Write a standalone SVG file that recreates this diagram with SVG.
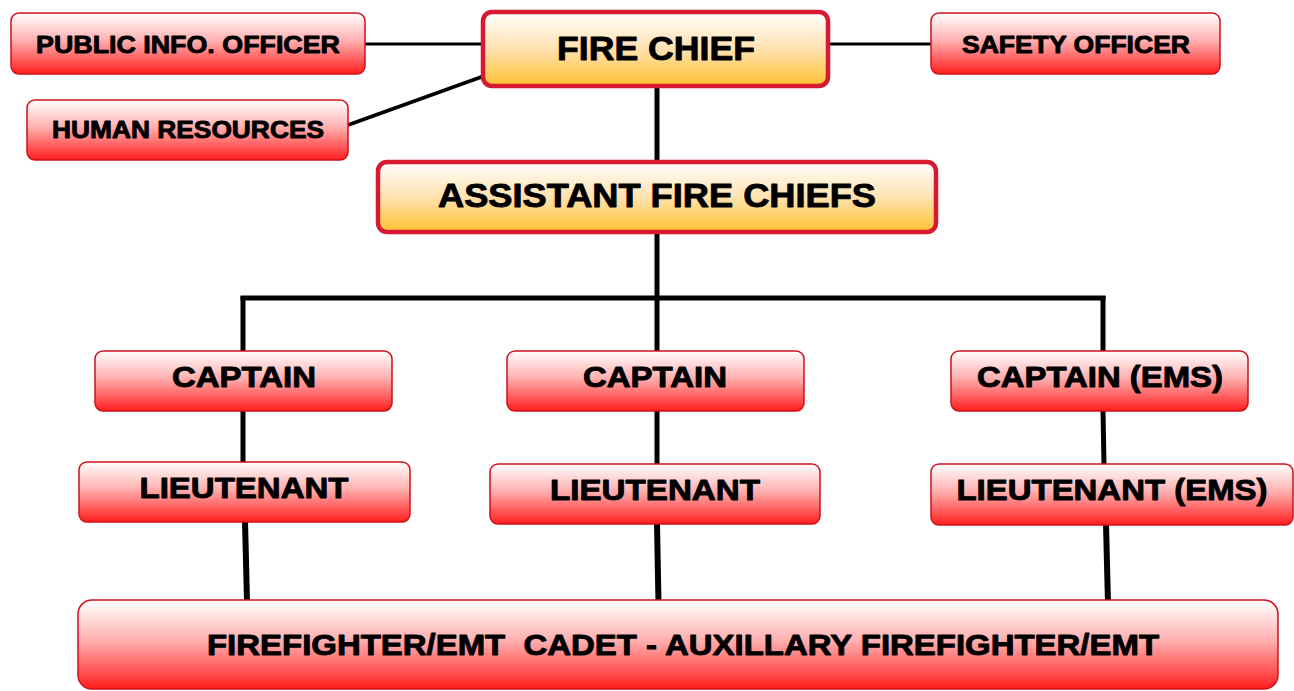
<svg xmlns="http://www.w3.org/2000/svg" width="1294" height="691" viewBox="0 0 1294 691">
<defs>
<linearGradient id="gRed" x1="0" y1="0" x2="0" y2="1">
<stop offset="0" stop-color="#ffffff"/>
<stop offset="0.45" stop-color="#ffb0b0"/>
<stop offset="1" stop-color="#ff1e1e"/>
</linearGradient>
<linearGradient id="gGold" x1="0" y1="0" x2="0" y2="1">
<stop offset="0" stop-color="#ffffff"/>
<stop offset="0.5" stop-color="#ffe2b0"/>
<stop offset="1" stop-color="#ffc030"/>
</linearGradient>
</defs>
<style>
.red{fill:url(#gRed);stroke:#d0101c;stroke-width:1.5}
.gold{fill:url(#gGold);stroke:#d71a32;stroke-width:4.5}
text{font-family:"Liberation Sans",Arial,sans-serif;font-weight:bold;fill:#000;stroke:#000;stroke-width:0.9;stroke-linejoin:round;text-anchor:middle}
.s{font-size:24.5px}
.m{font-size:29px}
.l{font-size:34px}
.c line{stroke:#000;stroke-linecap:butt}
</style>
<g class="c" id="connectors">
<line x1="365" y1="44" x2="484" y2="44" stroke-width="3"/>
<line x1="828" y1="44" x2="931" y2="44" stroke-width="3"/>
<line x1="348" y1="125" x2="484" y2="76" stroke-width="3.5"/>
<line x1="657" y1="87" x2="657" y2="161" stroke-width="5"/>
<line x1="657" y1="232" x2="657" y2="298" stroke-width="5"/>
<line x1="240.5" y1="298" x2="1105.5" y2="298" stroke-width="5"/>
<line x1="243" y1="296" x2="243" y2="352" stroke-width="5"/>
<line x1="657" y1="296" x2="657" y2="352" stroke-width="5"/>
<line x1="1103" y1="296" x2="1103" y2="352" stroke-width="5"/>
<line x1="243" y1="410" x2="243" y2="463" stroke-width="5"/>
<line x1="657" y1="410" x2="657" y2="465" stroke-width="5"/>
<line x1="1103" y1="410" x2="1104" y2="465" stroke-width="5"/>
<line x1="245" y1="521" x2="247" y2="601" stroke-width="6"/>
<line x1="657" y1="523" x2="658.5" y2="604" stroke-width="6"/>
<line x1="1106" y1="524" x2="1108" y2="604" stroke-width="6"/>
</g>
<g id="pio"><rect class="red" x="11" y="13" width="354" height="61" rx="8"/><text class="s" x="188" y="52.5" textLength="304" lengthAdjust="spacingAndGlyphs">PUBLIC INFO. OFFICER</text></g>
<g id="hr"><rect class="red" x="27" y="100" width="321" height="60" rx="8"/><text class="s" x="188" y="138" textLength="272" lengthAdjust="spacingAndGlyphs">HUMAN RESOURCES</text></g>
<g id="safety"><rect class="red" x="931" y="13" width="289" height="61" rx="8"/><text class="s" x="1076" y="52.5" textLength="228" lengthAdjust="spacingAndGlyphs">SAFETY OFFICER</text></g>
<g id="chief"><rect class="gold" x="483" y="12" width="345" height="74" rx="9"/><text class="l" x="656" y="60" textLength="198" lengthAdjust="spacingAndGlyphs">FIRE CHIEF</text></g>
<g id="afc"><rect class="gold" x="378" y="162" width="558" height="70" rx="9"/><text class="l" x="657" y="207" textLength="438" lengthAdjust="spacingAndGlyphs">ASSISTANT FIRE CHIEFS</text></g>
<g id="cap1"><rect class="red" x="95" y="351" width="297" height="60" rx="8"/><text class="m" x="244" y="387" textLength="144" lengthAdjust="spacingAndGlyphs">CAPTAIN</text></g>
<g id="cap2"><rect class="red" x="507" y="351" width="297" height="60" rx="8"/><text class="m" x="655" y="387" textLength="144" lengthAdjust="spacingAndGlyphs">CAPTAIN</text></g>
<g id="cap3"><rect class="red" x="951" y="351" width="297" height="60" rx="8"/><text class="m" x="1100" y="387" textLength="246" lengthAdjust="spacingAndGlyphs">CAPTAIN (EMS)</text></g>
<g id="lt1"><rect class="red" x="79" y="462" width="331" height="60" rx="8"/><text class="m" x="244" y="498" textLength="209" lengthAdjust="spacingAndGlyphs">LIEUTENANT</text></g>
<g id="lt2"><rect class="red" x="490" y="464" width="330" height="60" rx="8"/><text class="m" x="655" y="500" textLength="210" lengthAdjust="spacingAndGlyphs">LIEUTENANT</text></g>
<g id="lt3"><rect class="red" x="931" y="464" width="362" height="61" rx="8"/><text class="m" x="1112" y="500" textLength="311" lengthAdjust="spacingAndGlyphs">LIEUTENANT (EMS)</text></g>
<g id="ff"><rect class="red" x="78" y="600" width="1200" height="89" rx="14"/><text class="m" x="683" y="655" textLength="952" lengthAdjust="spacingAndGlyphs" xml:space="preserve">FIREFIGHTER/EMT  CADET - AUXILLARY FIREFIGHTER/EMT</text></g>
</svg>
